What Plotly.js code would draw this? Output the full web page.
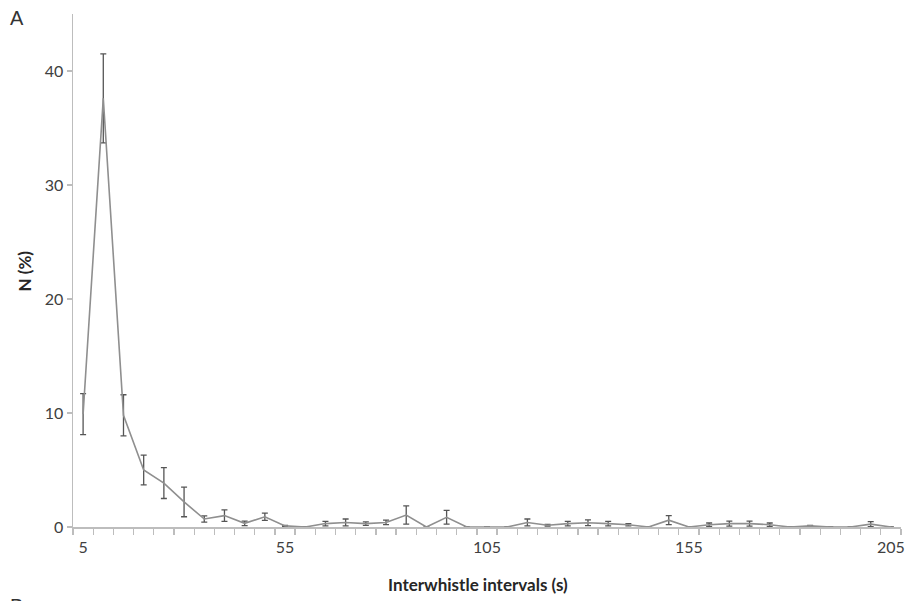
<!DOCTYPE html>
<html>
<head>
<meta charset="utf-8">
<script src="https://cdn.plot.ly/plotly-3.0.1.min.js"></script>
<style>html,body{margin:0;padding:0;background:#fff}#chart{width:909px;height:601px}</style>
</head>
<body>
<div id="chart"></div>
<script>
// Interwhistle interval bins (s)
var intervals = [5,10,15,20,25,30,35,40,45,50,55,60,65,70,75,80,85,90,95,100,105,110,115,120,125,130,135,140,145,150,155,160,165,170,175,180,185,190,195,200,205];
// Mean percentage per bin
var meanPct = [9.9,37.6,9.8,5.0,3.85,2.2,0.7,1.0,0.32,0.9,0.1,0,0.3,0.4,0.3,0.4,1.05,0,0.85,0,0,0,0.4,0.15,0.3,0.37,0.3,0.2,0,0.6,0,0.2,0.3,0.3,0.2,0,0.1,0,0,0.25,0];
// Error (symmetric) per bin
var errPct = [1.8,3.9,1.8,1.3,1.35,1.3,0.27,0.5,0.2,0.32,0.05,null,0.2,0.3,0.15,0.2,0.8,null,0.6,null,null,null,0.3,0.07,0.2,0.25,0.2,0.1,null,0.4,null,0.15,0.22,0.22,0.15,null,0.05,null,null,0.22,null];
var xTickVals = [5,55,105,155,205];
var yTickVals = [0,10,20,30,40];
// category boundaries (tick marks between categories)
var catEdges = [];
for (var i = 0; i <= intervals.length; i++) catEdges.push(intervals[0] - 2.5 + 5 * i);

var font = "Lato, 'Open Sans', sans-serif";
var xRange = [catEdges[0], catEdges[catEdges.length - 1]];

// invisible copy on the label axis so it gets drawn
var labelTrace = {
  x: intervals, y: meanPct, xaxis: 'x2', yaxis: 'y', type: 'scatter', mode: 'lines',
  line: {color: 'rgba(0,0,0,0)', width: 0}, hoverinfo: 'skip'
};
var trace = {
  x: intervals, y: meanPct, xaxis: 'x', yaxis: 'y', type: 'scatter', mode: 'lines',
  line: {color: '#8f8f8f', width: 1.6},
  error_y: {type: 'data', array: errPct, visible: true, color: '#555555', thickness: 1.3, width: 3},
  hoverinfo: 'skip'
};

var layout = {
  width: 909, height: 601,
  margin: {l: 73, r: 8, t: 14, b: 74},
  paper_bgcolor: '#fff', plot_bgcolor: '#fff',
  showlegend: false,
  font: {family: font, color: '#404040', size: 16},
  xaxis: {
    range: xRange, tickmode: 'array', tickvals: catEdges, showticklabels: false,
    ticks: 'outside', ticklen: 6, tickcolor: '#bdbdbd', tickwidth: 1.3,
    showgrid: false, zeroline: false,
    showline: true, linecolor: '#bdbdbd', linewidth: 1.5
  },
  xaxis2: {
    overlaying: 'x', anchor: 'y', side: 'bottom', range: xRange,
    tickmode: 'array', tickvals: xTickVals, ticktext: xTickVals.map(String), ticks: '',
    tickfont: {family: font, size: 16, color: '#404040'}, ticklabelstandoff: 9,
    showgrid: false, zeroline: false, showline: false
  },
  yaxis: {
    range: [0, 45], tickvals: yTickVals, ticks: 'outside', ticklen: 5, tickcolor: '#bdbdbd', tickwidth: 1.3,
    showgrid: false, zeroline: false,
    showline: true, linecolor: '#bdbdbd', linewidth: 1.5,
    tickfont: {family: font, size: 16, color: '#404040'}
  },
  annotations: [
    {text: '<b>Interwhistle intervals (s)</b>', xref: 'paper', yref: 'paper', x: 0.489, y: -0.113,
     xanchor: 'center', yanchor: 'middle', showarrow: false, font: {family: font, size: 17, color: '#262626'}},
    {text: '<b>N (%)</b>', xref: 'paper', yref: 'paper', x: -0.058, y: 0.5, textangle: -90,
     xanchor: 'center', yanchor: 'middle', showarrow: false, font: {family: font, size: 17, color: '#262626'}},
    {text: 'A', xref: 'paper', yref: 'paper', x: -0.079, y: 1.018, xanchor: 'left', yanchor: 'top', showarrow: false,
     font: {family: "'Liberation Sans', Arial, sans-serif", size: 20, color: '#333'}},
    {text: 'B', xref: 'paper', yref: 'paper', x: -0.079, y: -0.129, xanchor: 'left', yanchor: 'top', showarrow: false,
     font: {family: "'Liberation Sans', Arial, sans-serif", size: 20, color: '#333'}}
  ]
};

Plotly.newPlot('chart', [labelTrace, trace], layout, {displayModeBar: false, staticPlot: true});
</script>
</body>
</html>
